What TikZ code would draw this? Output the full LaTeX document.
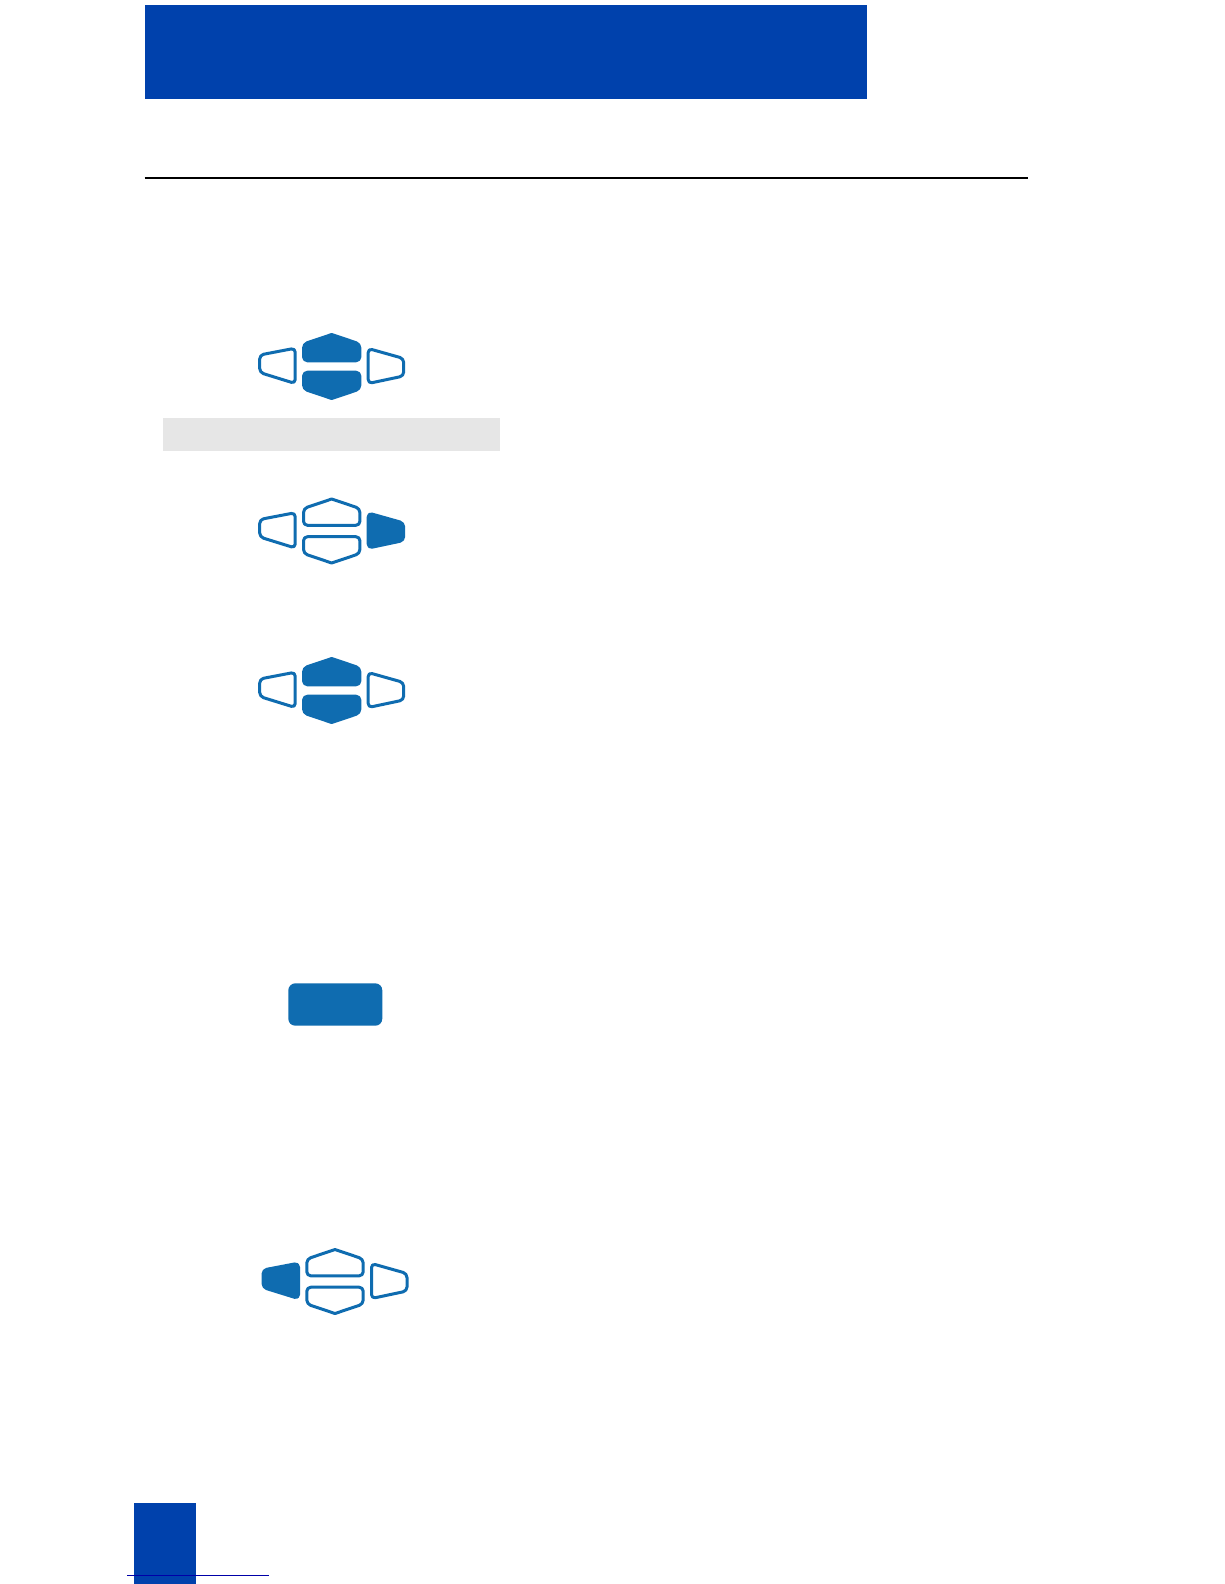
\documentclass[tikz,border=0pt]{standalone}
\usepackage{xcolor}

\definecolor{headerblue}{HTML}{0041AC}
\definecolor{keyblue}{HTML}{0F6CB0}
\definecolor{footline}{HTML}{0000A8}
\definecolor{bargray}{HTML}{E6E6E6}

\tikzset{
    keyshape/.style={draw=keyblue, line width=3pt, line join=round, rounded corners=4pt},
    keyon/.style={keyshape, fill=keyblue},
    keyoff/.style={keyshape, fill=white},
    % navigation cluster: #1 top, #2 bottom, #3 left, #4 right
    pics/navkeys/.style n args={4}{code={
        \draw[#1] (0,-5.7) -- (-28.2,-5.7) -- (-28.2,-22.5) [sharp corners] -- (0,-32) [rounded corners=4pt] -- (28.2,-22.5) -- (28.2,-5.7) -- cycle;
        \draw[#2] (0,5.7) -- (-28.2,5.7) -- (-28.2,22.5) [sharp corners] -- (0,32) [rounded corners=4pt] -- (28.2,22.5) -- (28.2,5.7) -- cycle;
        \draw[#3] (-36.5,-18.3) -- (-72,-11.5) -- (-72,6) -- (-36.5,17) -- cycle;
        \draw[#4] (36.5,-18) -- (72,-8) -- (72,9.5) -- (36.5,17) -- cycle;
    }}
}

\begin{document}
\begin{tikzpicture}[x=1pt, y=-1pt]

\useasboundingbox (0,0) rectangle (1224,1584);

% Page furniture
\fill[white] (0,0) rectangle (1224,1584);
\fill[headerblue] (144.5,5) rectangle (867,99);
\draw[black, line width=2pt] (144.5,178) coordinate (rule_l) -- (1028,178) coordinate (rule_r);
\fill[bargray] (163,417.5) rectangle (500,451);

% Navigation clusters
\pic at (331.7,366.5) {navkeys={keyon}{keyon}{keyoff}{keyoff}};
\pic at (331.7,531) {navkeys={keyoff}{keyoff}{keyoff}{keyon}};
\pic at (331.7,690.5) {navkeys={keyon}{keyon}{keyoff}{keyoff}};
\pic at (335,1281.5) {navkeys={keyoff}{keyoff}{keyon}{keyoff}};

% Softkey
\fill[keyblue, rounded corners=7pt] (288.3,983.3) rectangle (382.3,1025.7);

% Page tab
\fill[headerblue] (134,1503) rectangle (196,1584);
\draw[footline, line width=1.2pt] (127.3,1575.3) coordinate (foot_l) -- (268.7,1575.3) coordinate (foot_r);

\end{tikzpicture}
\end{document}
